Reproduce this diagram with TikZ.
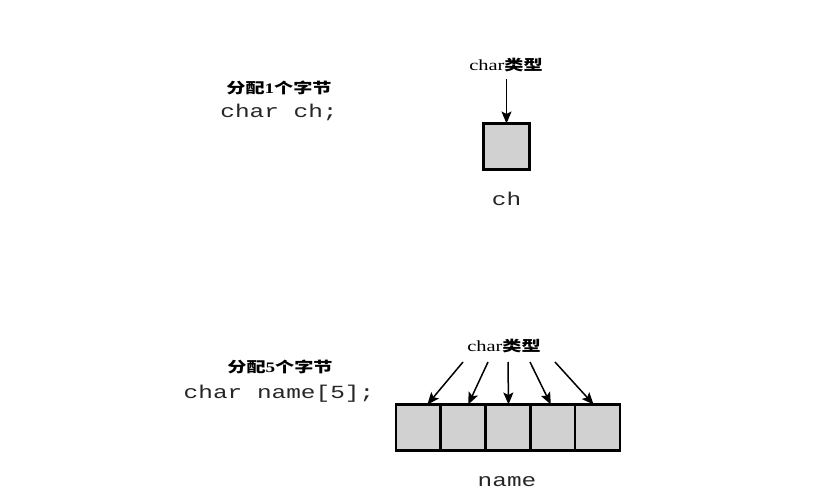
\documentclass[tikz,border=0pt]{standalone}
\usepackage{fontspec}
\setmainfont{Liberation Serif}
\setmonofont{Liberation Mono}
\newfontfamily\cjk{Noto Sans CJK SC}
\usetikzlibrary{arrows.meta}
\newcommand\myhs[1]{\scalebox{1.32}[1]{#1}}
\newcommand\typetext{{\fontsize{15.5}{16}\selectfont char}{\cjk\bfseries 类型}}
\begin{document}
\begin{tikzpicture}[x=1pt,y=-1pt,
  cell/.style={draw=black, line width=2.5pt, fill=black!18, minimum width=45pt, minimum height=46pt, inner sep=0pt, outer sep=0pt},
  code/.style={font=\fontsize{18.5}{20}\selectfont\ttfamily, text=black!85, inner sep=0pt, anchor=base},
  note/.style={font=\fontsize{14.5}{16}\selectfont, inner sep=0pt},
  arr/.style={line width=1.5pt, -{Stealth[length=12pt,width=10pt,inset=2.5pt]}}]
\useasboundingbox (0,0) rectangle (833,492);
% top part
\node[note] (lbl1) at (279,88) {\myhs{{\cjk\bfseries 分配}\textbf{1}{\cjk\bfseries 个字节}}};
\node[code] (decl1) at (279,118) {\myhs{char ch;}};
\node[note] (type1) at (506,65) {\myhs{\typetext}};
\node[cell, minimum width=46pt] (ch) at (506.5,146.5) {};
\node[code] (chname) at (506.5,205) {\myhs{ch}};
\coordinate (t0) at (506.5,79);
\draw[arr] (t0) -- (ch.north);
% bottom part
\node[note] (lbl2) at (280,367) {\myhs{{\cjk\bfseries 分配}\textbf{5}{\cjk\bfseries 个字节}}};
\node[code] (decl2) at (279,398) {\myhs{char name[5];}};
\node[note] (type2) at (504,346) {\myhs{\typetext}};
\foreach \i in {1,...,5} {
  \node[cell] (c\i) at ({396+44.8*(\i-0.5)},427.5) {};
}
\node[code] (arrname) at (507,486) {\myhs{name}};
\coordinate (s1) at (463,362);
\coordinate (s2) at (488,362);
\coordinate (s3) at (508,362);
\coordinate (s4) at (530,362);
\coordinate (s5) at (555,362);
\draw[arr] (s1) -- ([xshift=9pt]c1.north);
\draw[arr] (s2) -- ([xshift=5pt]c2.north);
\draw[arr] (s3) -- ([xshift=0.5pt]c3.north);
\draw[arr] (s4) -- ([xshift=-2pt]c4.north);
\draw[arr] (s5) -- ([xshift=-4pt]c5.north);
\end{tikzpicture}
\end{document}
